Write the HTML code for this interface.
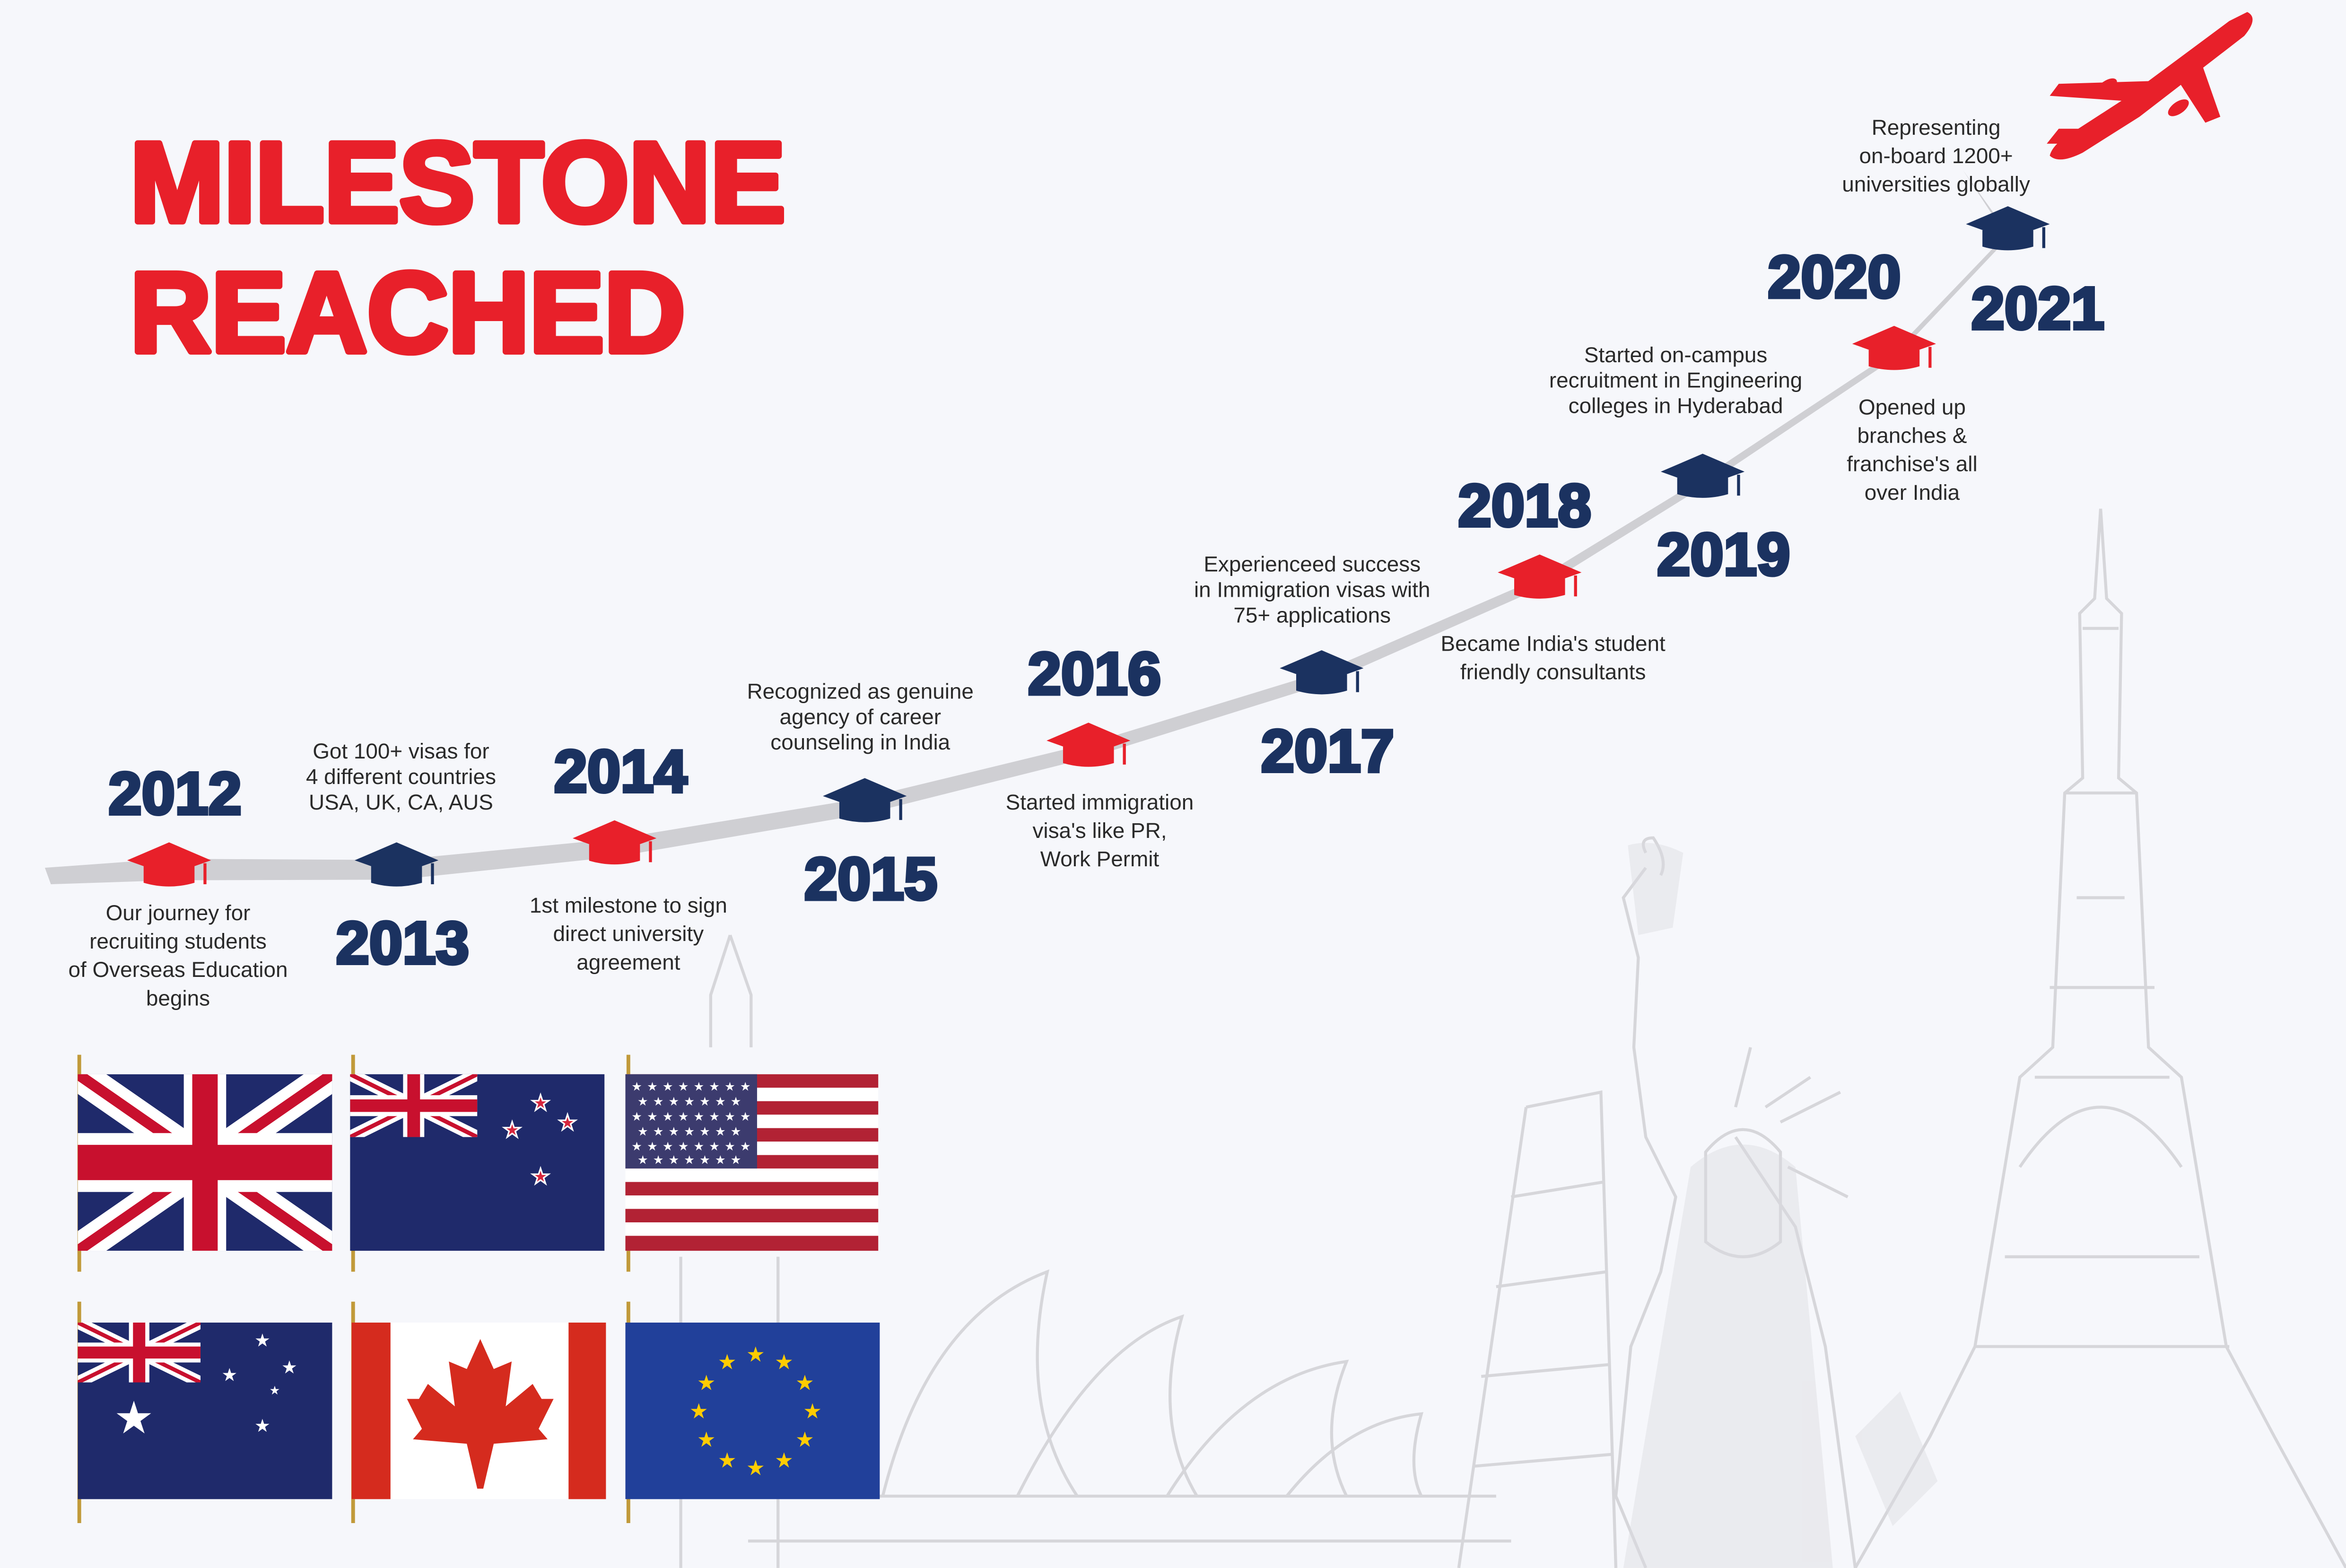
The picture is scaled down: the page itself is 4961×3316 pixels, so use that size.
<!DOCTYPE html>
<html><head><meta charset="utf-8">
<style>
html,body{margin:0;padding:0;background:#f6f7fb;}
svg{display:block;}
text{font-family:"Liberation Sans",sans-serif;}
</style></head>
<body>
<svg id="chart" width="4961" height="3316" viewBox="0 0 1568 1048" xmlns="http://www.w3.org/2000/svg">
<rect width="1568" height="1048" fill="#f6f7fb"/>

<g fill="none" stroke="#d6d6da" stroke-width="2">
  <path d="M1404 340 L1400 400 L1390 410 L1392 520 L1380 530 L1372 700 L1350 720 L1320 900 L1290 960 L1240 1048 M1404 340 L1408 400 L1418 410 L1416 520 L1428 530 L1436 700 L1458 720 L1488 900 L1520 960 L1568 1048"/>
  <path d="M1360 720 L1450 720 M1340 840 L1470 840 M1320 900 L1490 900 M1380 530 L1428 530 M1350 780 Q1404 700 1458 780"/>
  <path d="M1392 420 L1416 420 M1388 600 L1420 600 M1370 660 L1440 660" />
  <path d="M1100 580 L1085 600 L1095 640 L1092 700 L1100 760 L1120 800 L1110 850 L1090 900 L1080 1000 L1100 1048 M1160 760 L1200 820 L1220 900 L1240 1048 M1140 770 Q1165 740 1190 770 L1190 830 Q1165 850 1140 830 Z"/>
  <path d="M1100 570 Q1095 560 1105 560 Q1115 575 1110 585 M1160 740 L1170 700 M1190 750 L1230 730 M1195 780 L1235 800 M1180 740 L1210 720"/>
  <path d="M1020 740 L1070 730 L1080 1048 M1020 740 L975 1048 M1010 800 L1072 790 M1000 860 L1074 850 M990 920 L1076 912 M985 980 L1078 972"/>
  <path d="M488 625 L475 665 L475 700 M488 625 L502 665 L502 700 M455 840 L455 1048 M520 840 L520 1048 M455 900 L520 900"/>
  <path d="M590 1000 Q620 880 700 850 Q680 940 720 1000 M680 1000 Q730 900 790 880 Q770 950 800 1000 M780 1000 Q830 920 900 910 Q880 960 900 1000 M860 1000 Q900 950 950 945 Q940 980 950 1000 M520 1000 L1000 1000 M500 1030 L1010 1030"/>
</g>
<g fill="#dcdce0" opacity="0.45">
  <path d="M1088 565 Q1105 560 1125 570 L1118 620 L1095 625 Z"/>
  <path d="M1130 780 Q1165 750 1200 780 L1225 1048 L1085 1048 Z"/>
  <path d="M1240 960 L1270 930 L1295 990 L1265 1020 Z"/>
</g>

<g fill="#e8202a" stroke="#e8202a" stroke-width="4" stroke-linejoin="round">
  <text x="87" y="148" font-size="76" font-weight="bold" textLength="438" lengthAdjust="spacingAndGlyphs">MILESTONE</text>
  <text x="87" y="235" font-size="76" font-weight="bold" textLength="371" lengthAdjust="spacingAndGlyphs">REACHED</text>
</g>

<g fill="#e8202a">
  <path d="M1502 8 Q1510 12 1500 24 L1430 78 L1392 102 Q1376 110 1370 104 Q1372 96 1386 88 L1420 66 L1490 14 Z"/>
  <path d="M1452 48 L1474 82 L1484 78 L1470 38 Z"/>
  <path d="M1442 54 L1376 56 L1370 64 L1428 68 Z"/>
  <path d="M1398 86 L1376 86 L1368 96 L1392 96 Z"/>
  <ellipse cx="1456" cy="72" rx="8" ry="4" transform="rotate(-35 1456 72)"/>
  <ellipse cx="1408" cy="58" rx="8" ry="4" transform="rotate(-35 1408 58)"/>
</g>

<g id="timeline"></g>

<g>
  <g stroke="#c19a3a" stroke-width="2.5">
    <line x1="53" y1="705" x2="53" y2="850"/><line x1="236" y1="705" x2="236" y2="850"/><line x1="420" y1="705" x2="420" y2="850"/>
    <line x1="53" y1="870" x2="53" y2="1018"/><line x1="236" y1="870" x2="236" y2="1018"/><line x1="420" y1="870" x2="420" y2="1018"/>
  </g>
  <g>
    <svg x="52" y="718" width="170" height="118" viewBox="0 0 60 30" preserveAspectRatio="none">
      <rect width="60" height="30" fill="#1f2a6b"/>
      <path d="M0 0L60 30M60 0L0 30" stroke="#fff" stroke-width="6"/>
      <path d="M0 0L60 30M60 0L0 30" stroke="#c8102e" stroke-width="2"/>
      <path d="M30 0v30M0 15h60" stroke="#fff" stroke-width="10"/>
      <path d="M30 0v30M0 15h60" stroke="#c8102e" stroke-width="6"/>
    </svg>
  </g>
  <g>
    <rect x="234" y="718" width="170" height="118" fill="#1f2a6b"/>
    <svg x="234" y="718" width="85" height="42" viewBox="0 0 60 30" preserveAspectRatio="none">
      <path d="M0 0L60 30M60 0L0 30" stroke="#fff" stroke-width="6"/>
      <path d="M0 0L60 30M60 0L0 30" stroke="#c8102e" stroke-width="2"/>
      <path d="M30 0v30M0 15h60" stroke="#fff" stroke-width="10"/>
      <path d="M30 0v30M0 15h60" stroke="#c8102e" stroke-width="6"/>
    </svg>
    <g fill="#d7263d" stroke="#fff" stroke-width="1" font-size="14">
      <text x="355" y="742">★</text><text x="373" y="755">★</text><text x="336" y="760">★</text><text x="355" y="791">★</text>
    </g>
  </g>
  <g>
    <rect x="418" y="718" width="169" height="118" fill="#fff"/>
    <g fill="#b22234">
      <rect x="418" y="718" width="169" height="9"/><rect x="418" y="736" width="169" height="9"/><rect x="418" y="754" width="169" height="9"/><rect x="418" y="772" width="169" height="9"/><rect x="418" y="790" width="169" height="9"/><rect x="418" y="808" width="169" height="9"/><rect x="418" y="826" width="169" height="10"/>
    </g>
    <rect x="418" y="718" width="88" height="63" fill="#3c3b6e"/>
    <g fill="#fff" font-size="8">
      <text x="422" y="729" letter-spacing="3.2">★★★★★★★★</text><text x="426" y="739" letter-spacing="3.2">★★★★★★★</text><text x="422" y="749" letter-spacing="3.2">★★★★★★★★</text><text x="426" y="759" letter-spacing="3.2">★★★★★★★</text><text x="422" y="769" letter-spacing="3.2">★★★★★★★★</text><text x="426" y="778" letter-spacing="3.2">★★★★★★★</text>
    </g>
  </g>
  <g>
    <rect x="52" y="884" width="170" height="118" fill="#1f2a6b"/>
    <svg x="52" y="884" width="82" height="40" viewBox="0 0 60 30" preserveAspectRatio="none">
      <path d="M0 0L60 30M60 0L0 30" stroke="#fff" stroke-width="6"/>
      <path d="M0 0L60 30M60 0L0 30" stroke="#c8102e" stroke-width="2"/>
      <path d="M30 0v30M0 15h60" stroke="#fff" stroke-width="10"/>
      <path d="M30 0v30M0 15h60" stroke="#c8102e" stroke-width="6"/>
    </svg>
    <g fill="#fff">
      <text x="76" y="958" font-size="30">★</text><text x="170" y="900" font-size="12">★</text><text x="188" y="918" font-size="12">★</text><text x="148" y="923" font-size="12">★</text><text x="170" y="957" font-size="12">★</text><text x="180" y="932" font-size="8">★</text>
    </g>
  </g>
  <g>
    <rect x="235" y="884" width="170" height="118" fill="#fff"/>
    <rect x="235" y="884" width="26" height="118" fill="#d52b1e"/>
    <rect x="380" y="884" width="25" height="118" fill="#d52b1e"/>
    <path d="M321 895 L330 915 L342 910 L338 940 L356 925 L362 935 L370 935 L360 955 L366 962 L330 965 L323 995 L319 995 L312 965 L276 962 L282 955 L272 935 L280 935 L286 925 L304 940 L300 910 L312 915 Z" fill="#d52b1e"/>
  </g>
  <g>
    <rect x="418" y="884" width="170" height="118" fill="#21409a"/>
    <g id="eustars" fill="#ffcc00" font-size="14" text-anchor="middle"></g>
  </g>
</g>

<script>
const years = [2012, 2013, 2014, 2015, 2016, 2017, 2018, 2019, 2020, 2021];
const along = [0.0, 12.0, 23.5, 36.7, 48.5, 60.8, 72.3, 80.9, 91.0, 97.0];
const rise  = [0.0, 0.0, 3.5, 10.2, 19.0, 30.5, 45.7, 61.7, 82.0, 101.0];
const capColors = ["red","navy","red","navy","red","navy","red","navy","red","navy"];
const labelSide = ["above","below","above","below","above","below","above","below","above","below"];
const descriptions = [
  ["Our journey for","recruiting students","of Overseas Education","begins"],
  ["Got 100+ visas for","4 different countries","USA, UK, CA, AUS"],
  ["1st milestone to sign","direct university","agreement"],
  ["Recognized as genuine","agency of career","counseling in India"],
  ["Started immigration","visa's like PR,","Work Permit"],
  ["Experienceed success","in Immigration visas with","75+ applications"],
  ["Became India's student","friendly consultants"],
  ["Started on-campus","recruitment in Engineering","colleges in Hyderabad"],
  ["Opened up","branches &","franchise's all","over India"],
  ["Representing","on-board 1200+","universities globally"]
];

const NS = "http://www.w3.org/2000/svg";
function xScale(a){ return 113 + a * 12.67; }
function yScale(r){ return 577 - r * 4.21; }
const COL = {red:"#e8202a", navy:"#1b3260"};
const tl = document.getElementById("timeline");
function mk(tag, attrs, parent){ const e=document.createElementNS(NS,tag); for(const k in attrs) e.setAttribute(k,attrs[k]); (parent||tl).appendChild(e); return e; }

const pts = years.map((y,i)=>[xScale(along[i]), yScale(rise[i])+6]);
let outline = "M30 "+(pts[0][1]-3);
const bottomPts = [];
pts.forEach((p,i)=>{ const w = 9 - i*0.75; outline += " L"+p[0]+" "+(p[1]-w); bottomPts.unshift(p[0]+" "+(p[1]+w*0.6)); });
outline += " L1312 "+(yScale(rise[9]+10)+4)+" L"+bottomPts.join(" L")+" L34 "+(pts[0][1]+8)+" Z";
const brush = mk("path",{d:outline, fill:"#cfcfd3"});



years.forEach((yr,i)=>{
  const cx = xScale(along[i]), cy = yScale(rise[i]);
  const col = COL[capColors[i]];
  const cap = mk("g",{});
  
  
  mk("path",{d:`M${cx-17} ${cy+2} L${cx-17} ${cy+13} Q${cx} ${cy+18} ${cx+17} ${cy+13} L${cx+17} ${cy+2} Z`, fill:col}, cap);
  mk("path",{d:`M${cx} ${cy-14} L${cx+28} ${cy-2} L${cx} ${cy+8} L${cx-28} ${cy-2} Z`, fill:col}, cap);
  mk("line",{x1:cx+24,y1:cy,x2:cx+24,y2:cy+14,stroke:col,"stroke-width":2}, cap);

  const above = labelSide[i]==="above";
  const lx = cx + (i===9?20:(i===8?-40:(i===6?-10:(i===7?14:4))));
  const ly = i===9 ? cy+68 : (above ? cy-33 : cy+67);
  const yt = mk("text",{x:lx,y:ly,"font-size":40,"font-weight":"bold",fill:"#1b3260",stroke:"#1b3260","stroke-width":2.2,"text-anchor":"middle"});
  yt.textContent = yr;
  
  

  const lines = descriptions[i];
  const dx = [119,268,420,575,735,877,1038,1120,1278,1294][i];
  const dy = [615,507,610,467,541,382,435,242,277,90][i];
  const lh = [19,17,19,17,19,17,19,17,19,19][i];
  const dt = mk("text",{"font-size":14.5,fill:"#2a2a2a","text-anchor":"middle"});
  
  
  lines.forEach((ln,j)=>{ const ts=mk("tspan",{x:dx,y:dy+j*lh},dt); ts.textContent=ln; });
});

const eu = document.getElementById("eustars");
for(let k=0;k<12;k++){ const a=k*Math.PI/6; const s=document.createElementNS(NS,"text");
  s.setAttribute("x",505+38*Math.sin(a)); s.setAttribute("y",948-38*Math.cos(a)); s.textContent="★"; eu.appendChild(s); }
</script>
</svg>
</body></html>
